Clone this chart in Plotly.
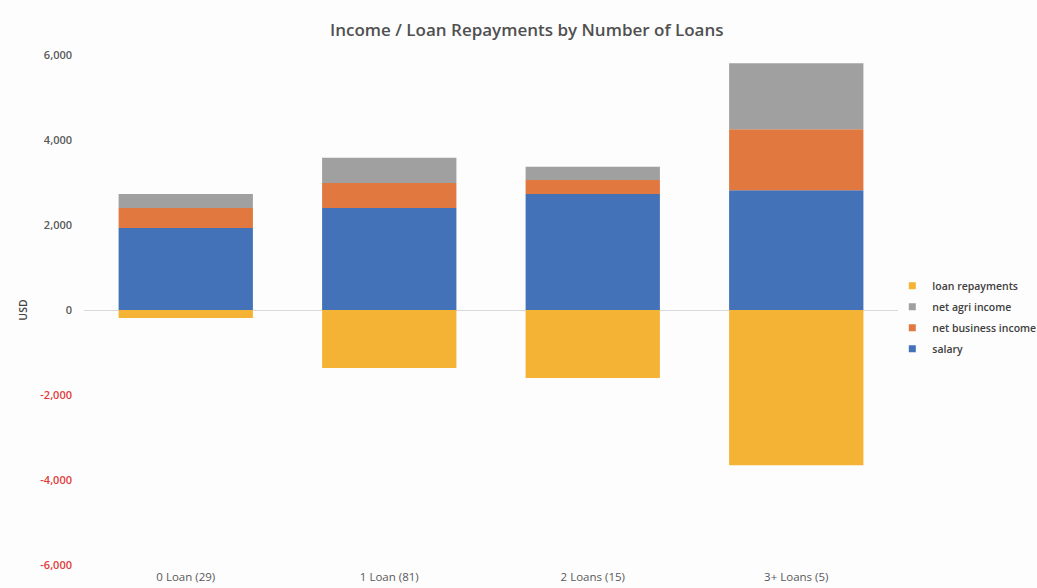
import plotly.graph_objects as go

# Loan-count groups (number of borrowers in brackets)
categories = ["0 Loan (29)", "1 Loan (81)", "2 Loans (15)", "3+ Loans (5)"]

# Average amounts per group, USD
salary = [1930, 2400, 2730, 2820]
net_business_income = [470, 590, 330, 1435]
net_agri_income = [330, 590, 310, 1550]
loan_repayments = [-190, -1365, -1600, -3650]

# Y-axis ticks; negative values shown in red
tick_values = [-6000, -4000, -2000, 0, 2000, 4000, 6000]
tick_labels = ["-6,000", "-4,000", "-2,000", "0", "2,000", "4,000", "6,000"]

series = [
    ("salary", salary, "#4472B8"),
    ("net business income", net_business_income, "#E07840"),
    ("net agri income", net_agri_income, "#A0A0A0"),
    ("loan repayments", loan_repayments, "#F5B335"),
]

fig = go.Figure()
for name, values, color in series:
    fig.add_trace(go.Bar(
        x=categories, y=values, name=name, legendgroup=name,
        showlegend=False,
        marker=dict(color=color, line=dict(width=0)),
    ))
# Small square legend keys (top of stack listed first), linked to the bars
for name, values, color in reversed(series):
    fig.add_trace(go.Scatter(
        x=[None], y=[None], mode="markers", name=name, legendgroup=name,
        marker=dict(symbol="square", size=7, color=color),
        hoverinfo="skip",
    ))

tick_text = [
    f'<span style="color:#E03B3B">{t}</span>' if v < 0 else t
    for v, t in zip(tick_values, tick_labels)
]

font_main = "Open Sans, DejaVu Sans, sans-serif"

fig.update_layout(
    barmode="relative",
    bargap=0.34,
    width=1037, height=588,
    paper_bgcolor="#FDFDFD", plot_bgcolor="#FDFDFD",
    margin=dict(l=84, r=139, t=55, b=23, autoexpand=False),
    font=dict(family=font_main, size=10, color="#595959"),
    title=dict(
        text="Income / Loan Repayments by Number of Loans",
        x=0.508, xref="container", xanchor="center",
        y=1 - 30 / 588, yref="container", yanchor="middle",
        font=dict(family=font_main, size=17, weight=600, color="#505050"),
    ),
    legend=dict(
        traceorder="grouped",
        tracegroupgap=2,
        x=0.993, xanchor="left", y=0.486, yanchor="middle",
        font=dict(family=font_main, size=10.5, weight=600, color="#404040"),
        bgcolor="rgba(0,0,0,0)",
        itemwidth=30,
    ),
    showlegend=True,
)

fig.update_xaxes(
    showgrid=False, showline=False, zeroline=False, ticks="",
    tickfont=dict(family=font_main, size=11.5, color="#595959"),
    ticklabelstandoff=3,
)
fig.update_yaxes(
    range=[-6000, 6000],
    tickvals=tick_values, ticktext=tick_text,
    showgrid=False, showline=False, ticks="",
    zeroline=True, zerolinecolor="#D9D9D9", zerolinewidth=1,
    tickfont=dict(family=font_main, size=11, weight=600, color="#595959"),
    ticklabelstandoff=11,
    title=dict(text="USD", standoff=10,
               font=dict(family=font_main, size=10.5, weight=600, color="#404040")),
)

fig.write_html("out.html")
